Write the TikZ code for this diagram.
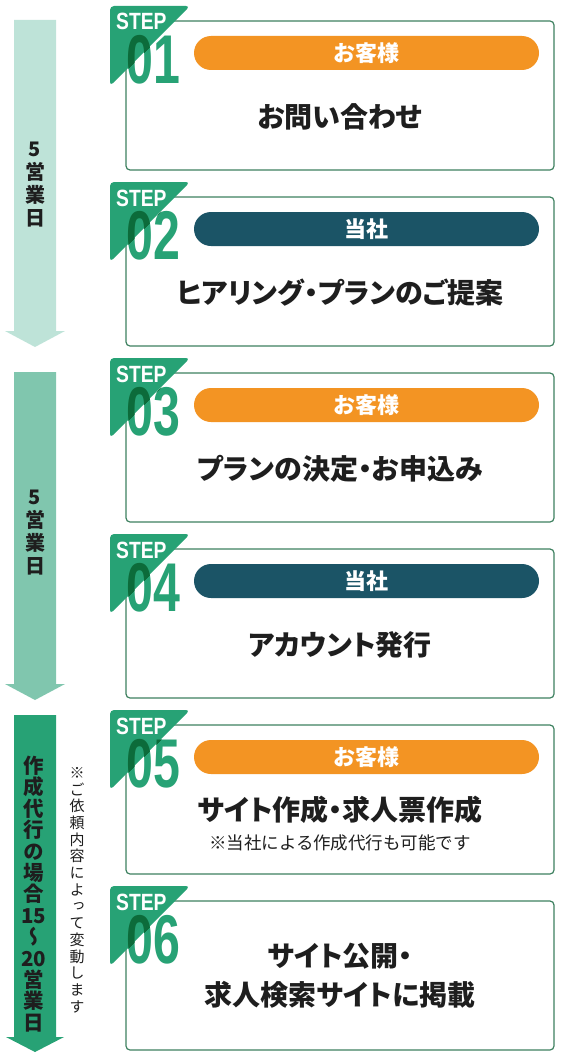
\documentclass[tikz,border=0pt]{standalone}
\usepackage{fontspec}
\setmainfont{Liberation Sans}
\newfontfamily\jp{Noto Sans CJK JP}
\newfontfamily\jpp[RawFeature=+palt]{Noto Sans CJK JP}
\newfontfamily\jpv[RawFeature=+vert]{Noto Sans CJK JP}
\definecolor{badgegreen}{HTML}{27A275}
\definecolor{darkgreen}{HTML}{0C6B3A}
\definecolor{frameline}{HTML}{3E8160}
\definecolor{pillorange}{HTML}{F39423}
\definecolor{pillnavy}{HTML}{1B5466}
\definecolor{arrowA}{HTML}{BEE3D8}
\definecolor{arrowB}{HTML}{80C6AE}
\definecolor{arrowC}{HTML}{27A275}
\definecolor{ink}{HTML}{1E1E1E}
\tikzset{
  stepframe/.style={draw=frameline, line width=1.2pt, rounded corners=4pt, fill=white},
  numtext/.style={anchor=base west, inner sep=0pt, font=\bfseries\fontsize{69}{69}\selectfont},
  steptext/.style={anchor=base west, inner sep=0pt, text=white, font=\bfseries\fontsize{23.5}{23.5}\selectfont},
  pilltext/.style={inner sep=0pt, text=white, font=\jp\bfseries\fontsize{22}{22}\selectfont},
  maintext/.style={inner sep=0pt, text=ink, align=center, font=\jpp\bfseries\fontsize{28}{39}\selectfont},
  notetext/.style={inner sep=0pt, text=ink, font=\jp\fontsize{17.5}{17.5}\selectfont},
  vtext/.style={inner sep=0pt, text=ink, align=center, font=\jpv\bfseries\fontsize{20}{23}\selectfont},
}
\newcommand\mystep[5]{%
  \draw[stepframe] (126,#1) rectangle (554,#1+149);
  \fill[badgegreen, rounded corners=4pt] (110,#1-15) -- (190,#1-15) -- (110,#1+65) -- cycle;
  \node[numtext, text=badgegreen] (num#5) at (126,#1+62) {\scalebox{0.7}[1]{#2}};
  \begin{scope}
    \clip[rounded corners=4pt] (110,#1-15) -- (190,#1-15) -- (110,#1+65) -- cycle;
    \node[numtext, text=darkgreen] (numdark#5) at (126,#1+62) {\scalebox{0.7}[1]{#2}};
  \end{scope}
  \node[steptext] (step#5) at (116,#1+9) {\scalebox{0.82}[1]{STEP}};
  \fill[#3, rounded corners=17pt] (194,#1+15) rectangle (539,#1+49);
  \node[pilltext] (pill#5) at (366.5,#1+32) {#4};
}
\begin{document}
\begin{tikzpicture}[x=1pt, y=-1pt]
\useasboundingbox (0,0) rectangle (560,1057);
% left arrows
\fill[arrowA] (14,20) -- (56,20) -- (56,331) -- (65,331) -- (35,347) -- (5,331) -- (14,331) -- cycle;
\fill[arrowB] (14,372) -- (56,372) -- (56,684) -- (65,684) -- (35,700) -- (5,684) -- (14,684) -- cycle;
\fill[arrowC] (14,715) -- (56,715) -- (56,1037) -- (64,1037) -- (35,1052) -- (6,1037) -- (14,1037) -- cycle;
\node[vtext] (days1) at (35,185) {5\\営\\業\\日};
\node[vtext] (days2) at (35,533) {5\\営\\業\\日};
\node[vtext, font=\jpv\bfseries\fontsize{20.5}{21.4}\selectfont] (days3) at (34,894)
  {作\\成\\代\\行\\の\\場\\合\\15\\～\\20\\営\\業\\日};
\node[inner sep=0pt, text=ink, align=center, font=\jpv\fontsize{15}{16.7}\selectfont] (vnote) at (77,890)
  {※\\ご\\依\\頼\\内\\容\\に\\よ\\っ\\て\\変\\動\\し\\ま\\す};
% steps
\mystep{21}{01}{pillorange}{お客様}{a}
\node[maintext] (main1) at (340,21+96) {お問い合わせ};
\mystep{197}{02}{pillnavy}{当社}{b}
\node[maintext] (main2) at (340,197+96) {ヒアリング・プランのご提案};
\mystep{373}{03}{pillorange}{お客様}{c}
\node[maintext] (main3) at (340,373+96) {プランの決定・お申込み};
\mystep{549}{04}{pillnavy}{当社}{d}
\node[maintext] (main4) at (340,549+96) {アカウント発行};
\mystep{725}{05}{pillorange}{お客様}{e}
\node[maintext] (main5) at (340,725+85) {サイト作成・求人票作成};
\node[notetext] (note5) at (340,725+118) {※当社による作成代行も可能です};
\mystep{901}{06}{white}{}{f}
\node[maintext] (main6) at (340,901+75) {サイト公開・\\求人検索サイトに掲載};
\end{tikzpicture}
\end{document}
